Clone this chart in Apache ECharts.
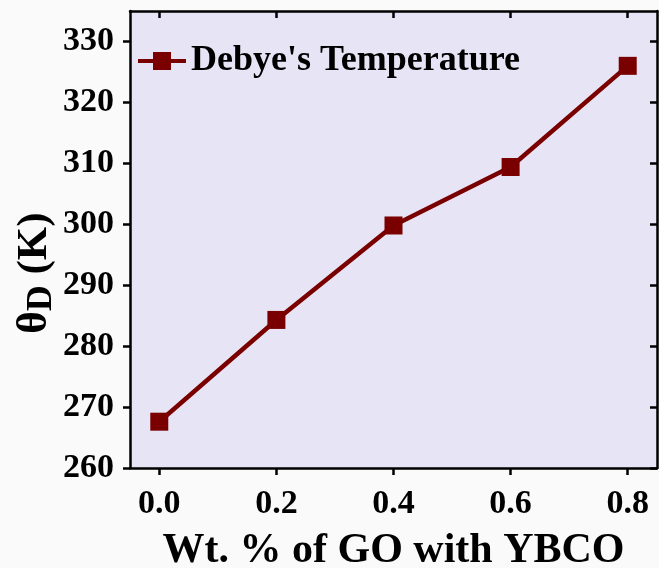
<!DOCTYPE html>
<html>
<head>
<meta charset="utf-8">
<script src="https://cdn.jsdelivr.net/npm/echarts@6/dist/echarts.min.js"></script>
<style>
html,body{margin:0;padding:0;background:#fafafa;}
#chart{width:659px;height:568px;}
</style>
</head>
<body>
<div id="chart"></div>
<script>
const goWt = [0.0, 0.2, 0.4, 0.6, 0.8];
const debyeTemp = [267.6, 284.3, 299.8, 309.4, 326.0];
const xTicks = [0.0, 0.2, 0.4, 0.6, 0.8];
const yTicks = [260, 270, 280, 290, 300, 310, 320, 330];
const seriesName = "Debye's Temperature";
const xTitle = 'Wt. % of GO with YBCO';

const FONT = "'Liberation Serif','Times New Roman',serif";
const chart = echarts.init(document.getElementById('chart'));
const axisLine = {show: true, onZero: false, lineStyle: {color: '#000', width: 2.5}};
chart.setOption({
  backgroundColor: '#fafafa',
  animation: false,
  grid: {left: 130, top: 11, right: 2, bottom: 100, show: true, backgroundColor: '#e7e5f5', borderWidth: 0,
    outerBoundsMode: 'none', containLabel: false},
  legend: {
    left: 138, top: 43, padding: 0, itemWidth: 48, itemHeight: 18, itemGap: 6,
    textStyle: {fontFamily: FONT, fontWeight: 'bold', fontSize: 36, color: '#000'},
    data: [{name: seriesName, icon: 'path://M0,7h48v4h-48z M15,0h18v18h-18z'}]
  },
  xAxis: [{
    type: 'value', min: -0.05, max: 0.85, position: 'bottom',
    axisLine: axisLine,
    axisTick: {show: true, customValues: xTicks, length: 7, lineStyle: {color: '#000', width: 2.5}},
    axisLabel: {show: true, customValues: xTicks, margin: 19, formatter: v => v.toFixed(1),
      fontFamily: FONT, fontWeight: 'bold', fontSize: 34, color: '#000'},
    splitLine: {show: false},
    name: xTitle, nameLocation: 'middle', nameGap: 62,
    nameTextStyle: {fontFamily: FONT, fontWeight: 'bold', fontSize: 42, color: '#000'}
  }, {
    type: 'value', min: -0.05, max: 0.85, position: 'top',
    axisLine: axisLine,
    axisTick: {show: true, inside: true, customValues: xTicks, length: 7, lineStyle: {color: '#000', width: 2.5}},
    axisLabel: {show: false}, splitLine: {show: false}
  }],
  yAxis: [{
    type: 'value', min: 260, max: 335, position: 'left',
    axisLine: axisLine,
    axisTick: {show: true, customValues: yTicks, length: 7, lineStyle: {color: '#000', width: 2.5}},
    axisLabel: {show: true, customValues: yTicks, margin: 16,
      fontFamily: FONT, fontWeight: 'bold', fontSize: 34, color: '#000'},
    splitLine: {show: false}
  }, {
    type: 'value', min: 260, max: 335, position: 'right',
    axisLine: axisLine,
    axisTick: {show: true, inside: true, customValues: yTicks, length: 7, lineStyle: {color: '#000', width: 2.5}},
    axisLabel: {show: false}, splitLine: {show: false}
  }],
  graphic: [{
    type: 'text', x: 60, y: 273, rotation: Math.PI / 2,
    style: {
      text: '{t|θ}{s|D}{t| (K)}',
      rich: {
        t: {fontFamily: FONT, fontWeight: 'bold', fontSize: 43, fill: '#000'},
        s: {fontFamily: FONT, fontWeight: 'bold', fontSize: 36, fill: '#000', padding: [14, 0, 0, 0]}
      },
      align: 'center', verticalAlign: 'bottom'
    }
  }],
  series: [{
    name: seriesName, type: 'line', xAxisIndex: 0, yAxisIndex: 0,
    data: goWt.map((x, i) => [x, debyeTemp[i]]),
    symbol: 'rect', symbolSize: 18,
    lineStyle: {color: '#7a0000', width: 4.5},
    itemStyle: {color: '#7a0000'}
  }]
});
</script>
</body>
</html>
